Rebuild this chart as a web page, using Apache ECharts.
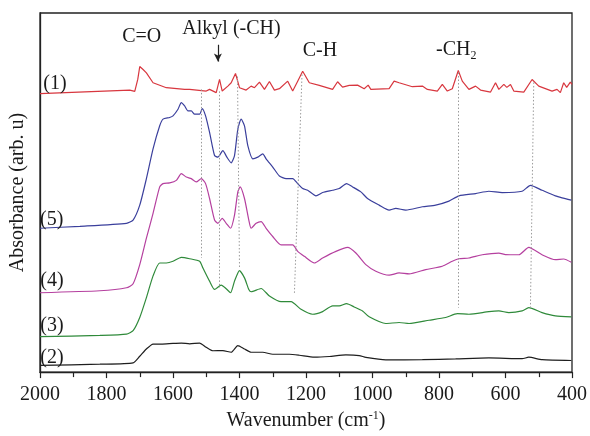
<!DOCTYPE html>
<html>
<head>
<meta charset="utf-8">
<script src="https://cdn.jsdelivr.net/npm/echarts@6/dist/echarts.min.js"></script>
<style>
  html, body { margin: 0; padding: 0; background: #fff; }
  #chart { width: 590px; height: 436px; }
</style>
</head>
<body>
<div id="chart"></div>
<script>
// spectra: [wavenumber, absorbance (arb. u, offset)]
const spec1 = [[2000,280.7],[1730,284.3],[1715,283],[1706,295],[1700,308],[1695,309.3],[1690,305],[1680,301.7],[1660,291.7],[1620,286.7],[1565,285],[1560,286.7],[1550,285],[1500,283.3],[1490,285],[1470,281.7],[1460,295],[1452,283.3],[1435,288.3],[1425,291.7],[1412,301],[1400,286.7],[1380,284.3],[1365,288.3],[1355,286.7],[1340,292.3],[1325,285],[1310,293],[1295,284.3],[1280,285.7],[1255,293.3],[1240,283.3],[1225,293.3],[1210,303.3],[1190,291.7],[1160,289],[1120,285],[1105,292.7],[1090,287.3],[1070,289],[1045,289.3],[1025,285.7],[1013,289.3],[1005,285],[950,285.7],[935,293.3],[920,291.7],[880,287.7],[850,288.3],[835,285],[805,283.3],[790,290],[775,283.3],[760,285.7],[742,304],[730,293.3],[710,285],[690,288.3],[675,284.3],[645,282.3],[630,291.7],[620,285],[605,290],[596,287],[585,290],[575,283.3],[545,282.3],[520,295],[500,288.3],[460,283.3],[445,285],[435,281.7],[425,291.7],[416,287],[405,292.3],[400,290]];
const spec5 = [[2000,145],[1880,147],[1740,150],[1720,153.3],[1700,168.3],[1680,195],[1660,225],[1640,248.3],[1630,255],[1610,256.7],[1600,258.3],[1585,265],[1575,271.7],[1565,268.3],[1555,263.3],[1545,263.3],[1535,260],[1520,260],[1512,265.7],[1502,258.3],[1490,241.7],[1475,218.3],[1465,216.7],[1450,223.3],[1438,216.7],[1425,211],[1415,218.3],[1405,245],[1395,255],[1385,248.3],[1375,228.3],[1360,215],[1345,216.7],[1330,220],[1320,215],[1300,206.7],[1280,197.7],[1260,195],[1240,195],[1225,190],[1210,185],[1195,183.3],[1170,177.7],[1150,181],[1120,183.3],[1100,185],[1078,190],[1060,186.7],[1035,181.7],[1015,175],[980,168.3],[950,163.3],[930,165],[900,163.3],[850,166.7],[810,168.3],[770,172.3],[740,177.7],[690,180],[650,182.3],[610,181],[550,182.3],[525,188.3],[490,183.3],[450,177.7],[430,175.7],[402,173.3]];
const spec4 = [[2000,80],[1820,82],[1740,85],[1720,89],[1700,108.3],[1680,135],[1660,160],[1640,186.7],[1630,190],[1610,190.7],[1590,193.3],[1575,200],[1560,196.7],[1545,195],[1530,191.7],[1515,195],[1502,190],[1490,175],[1475,153.3],[1465,150],[1452,155],[1440,150],[1427,145],[1415,158.3],[1405,181.7],[1398,186.7],[1385,175],[1372,153.3],[1365,145],[1350,150],[1335,151.7],[1320,145],[1300,136.7],[1275,128.3],[1240,128.3],[1225,121.7],[1205,116.7],[1175,110],[1150,115],[1110,121.7],[1075,125.7],[1050,120],[1020,108.3],[990,101.7],[950,97.7],[920,100],[890,99],[840,103.3],[790,106.7],[760,111.7],[740,114.3],[710,115],[670,118.3],[620,120],[600,118.5],[560,118.3],[530,125.7],[490,118.3],[450,113.3],[425,114],[402,110.7]];
const spec3 = [[2000,35.7],[1820,37],[1740,38.3],[1720,41.7],[1700,55],[1680,75],[1660,97],[1640,110],[1620,110],[1600,111.7],[1575,115.7],[1550,114.3],[1520,111.7],[1510,105],[1490,91.7],[1475,83.3],[1455,87.7],[1440,84],[1427,80],[1415,91.7],[1400,102.3],[1385,95],[1372,83.3],[1365,81],[1335,84.3],[1310,76.7],[1275,71],[1245,71],[1215,63.3],[1180,58.3],[1150,61],[1120,66.7],[1100,66.7],[1078,69],[1055,65.7],[1030,61.7],[1010,55.7],[960,49],[920,50],[890,49],[830,52.3],[780,55],[745,59],[710,58.3],[650,61],[620,61.7],[590,60],[550,61.7],[530,65],[490,60],[450,56.7],[402,55.7]];
const spec2 = [[2000,6.7],[1820,8],[1720,9.3],[1700,16],[1680,23.3],[1660,28.3],[1635,28.3],[1600,29],[1575,29.3],[1550,28.5],[1520,29.3],[1500,25],[1480,21.5],[1450,21.7],[1425,20],[1405,26.7],[1385,23.3],[1365,20],[1330,20],[1300,18],[1250,18],[1220,17],[1175,15],[1130,15.7],[1080,17.3],[1040,16.7],[1020,14.8],[960,12.3],[850,12.5],[750,13.3],[650,14.3],[550,13.5],[530,15],[490,12.5],[402,11.7]];

const seriesNames = ['(1)', '(5)', '(4)', '(3)', '(2)'];
const seriesColors = ['#d8373f', '#3a3f9c', '#b5409f', '#2f8a3a', '#1e1e1e'];
// label anchors next to the left axis
const nameLabels = [[1955,291],[1965,153.5],[1964,92],[1964,47],[1964,14]];

// band annotations and the dotted guide lines
const bandTexts = ['C=O', 'Alkyl (-CH)', 'C-H', '-CH{sub|2}'];
const bandPos = [[1694,338],[1424,346],[1158,324],[748,325]];
const guides = [
  [[1516,285],[1516,115]],
  [[1460,283],[1460,85]],
  [[1406,298],[1400,105]],
  [[1212,300],[1235,78]],
  [[741,302],[741,65]],
  [[515,292],[525,65]]
];
const arrow = [[1465,330],[1465,313]];

const xTicks = { min: 400, max: 2000, interval: 200 };
const FONT = 'Liberation Serif';
const INK = '#1a1a1a';

const myChart = echarts.init(document.getElementById('chart'));

const spectra = [spec1, spec5, spec4, spec3, spec2];
const lineSeries = spectra.map(function (d, i) {
  return {
    name: seriesNames[i],
    type: 'line',
    data: d,
    showSymbol: false,
    smooth: i === 0 ? false : 0.2,
    lineStyle: { color: seriesColors[i], width: 1.2 },
    z: 3
  };
});

// plain text labels (no symbol) pinned to data coords
function textLabel(extra) {
  return Object.assign({
    show: true, position: 'inside', formatter: '{b}',
    fontFamily: FONT, fontSize: 20, color: INK,
    textBorderWidth: 0, opacity: 1
  }, extra || {});
}

const options = {
  animation: false,
  grid: {
    left: 40, right: 17, top: 13, bottom: 61,
    show: true, borderColor: '#222', borderWidth: 1.3
  },
  xAxis: {
    type: 'value',
    inverse: true,
    min: xTicks.min,
    max: xTicks.max,
    interval: xTicks.interval,
    name: 'Wavenumber (cm{sup|-1})',
    nameLocation: 'middle',
    nameGap: 37,
    nameTextStyle: {
      fontFamily: FONT, fontSize: 20, color: INK,
      rich: { sup: { fontFamily: FONT, fontSize: 12, color: INK, padding: [0, 0, 10, 0] } }
    },
    axisLine: { lineStyle: { color: '#222', width: 1.3 } },
    axisTick: { inside: false, length: 6, lineStyle: { color: '#222', width: 1.2 } },
    minorTick: { show: true, splitNumber: 2, length: 5, lineStyle: { color: '#222', width: 1.2 } },
    axisLabel: {
      fontFamily: FONT, fontSize: 20, color: INK, margin: 13,
      formatter: function (v) { return String(v); }
    },
    splitLine: { show: false }
  },
  yAxis: {
    type: 'value',
    min: 0,
    max: 362,
    name: 'Absorbance (arb. u)',
    nameLocation: 'middle',
    nameGap: 12,
    nameTextStyle: { fontFamily: FONT, fontSize: 20, color: INK },
    axisLine: { show: true, lineStyle: { color: '#222', width: 1.3 } },
    axisTick: { show: false },
    axisLabel: { show: false },
    splitLine: { show: false }
  },
  series: lineSeries.concat([
    {
      // dotted guides
      type: 'line',
      data: [],
      markLine: {
        silent: true,
        symbol: ['none', 'none'],
        label: { show: false },
        lineStyle: { color: '#9a9a9a', type: [1.5, 2], width: 1 },
        data: guides.map(function (g) { return [{ coord: g[0] }, { coord: g[1] }]; })
      },
      z: 1
    },
    {
      // series numbers
      type: 'scatter',
      symbolSize: 0,
      itemStyle: { opacity: 1 },
      data: nameLabels.map(function (p, i) { return { value: p, name: seriesNames[i] }; }),
      label: textLabel(),
      z: 5
    },
    {
      // band names + arrow
      type: 'scatter',
      symbolSize: 0,
      itemStyle: { opacity: 1 },
      data: bandPos.map(function (p, i) { return { value: p, name: bandTexts[i] }; }),
      label: textLabel({
        rich: { sub: { fontFamily: FONT, fontSize: 12, color: INK, padding: [12, 0, 0, 0] } }
      }),
      markLine: {
        silent: true,
        symbol: ['none', 'arrow'],
        symbolSize: [6, 8],
        label: { show: false },
        lineStyle: { color: '#222', type: 'solid', width: 1.2 },
        data: [[{ coord: arrow[0] }, { coord: arrow[1] }]]
      },
      z: 5
    }
  ])
};

myChart.setOption(options);
window.addEventListener('resize', function () {
  myChart.resize();
});
</script>
</body>
</html>
